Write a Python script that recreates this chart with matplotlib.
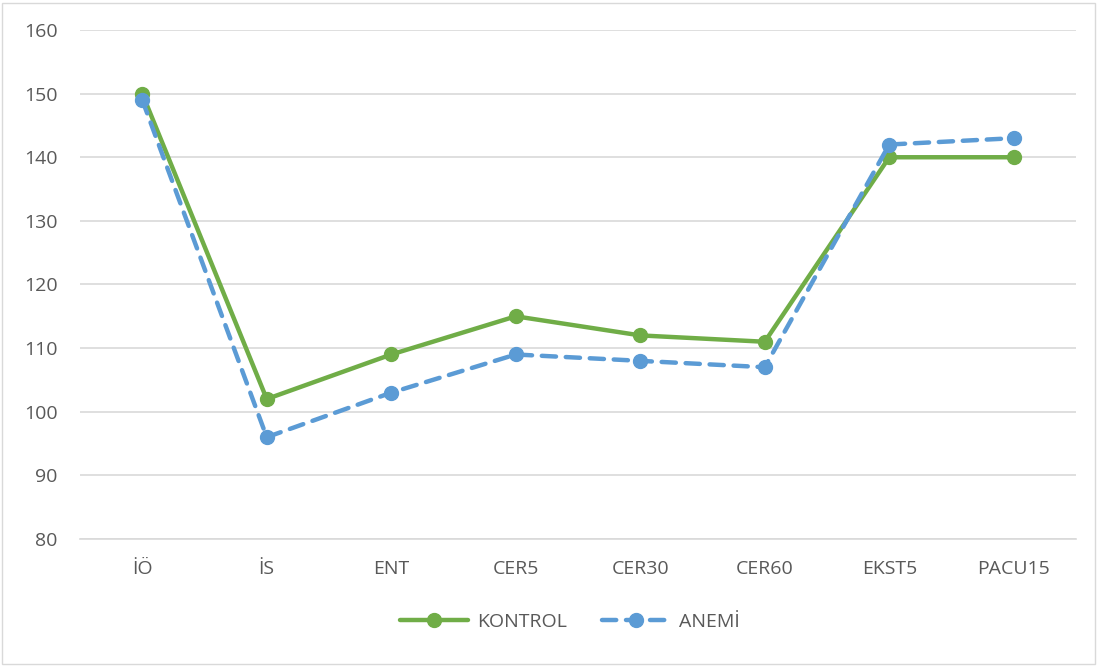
import matplotlib
matplotlib.use("Agg")
import matplotlib.pyplot as plt
from matplotlib.patches import Rectangle

categories = ["İÖ", "İS", "ENT", "CER5", "CER30", "CER60", "EKST5", "PACU15"]
kontrol = [150, 102, 109, 115, 112, 111, 140, 140]
anemi = [149, 96, 103, 109, 108, 107, 142, 143]
yticks = [80, 90, 100, 110, 120, 130, 140, 150, 160]

plt.rcParams['font.family'] = ['Open Sans', 'DejaVu Sans']
FS = 14

fig = plt.figure(figsize=(10.98, 6.66), dpi=100)
ax = fig.add_axes([80/1098, 1-539/666, (1076-80)/1098, (539-30)/666])

x = list(range(len(categories)))
ax.plot(x, kontrol, color="#70AD47", lw=3.2, marker="o", ms=10, label="KONTROL", zorder=3,
        solid_capstyle="round")
ax.plot(x, anemi, color="#5B9BD5", lw=3.2, ls=(0, (3.2, 2.2)), marker="o", ms=10, label="ANEMİ",
        zorder=4, dash_capstyle="round")

ax.set_xlim(-0.5, len(categories) - 0.5)
ax.set_ylim(80, 160)
ax.set_yticks(yticks)
ax.set_xticks(x)
ax.set_xticklabels(categories)
ax.grid(axis="y", color="#D9D9D9", lw=1.2)
ax.set_axisbelow(True)
for s in ["top", "right", "left"]:
    ax.spines[s].set_visible(False)
ax.spines["bottom"].set_color("#D9D9D9")
ax.spines["bottom"].set_linewidth(1.2)
ax.tick_params(axis="both", length=0, labelsize=FS, colors="#595959")
ax.tick_params(axis="y", pad=16)
ax.tick_params(axis="x", pad=15)

leg = fig.legend(loc="center", bbox_to_anchor=(570/1098, 1-622/666), ncol=2, frameon=False,
                 fontsize=FS, handlelength=3.5, columnspacing=1.8, handletextpad=0.45)
for t in leg.get_texts():
    t.set_color("#595959")

fig.patches.append(Rectangle((2/1098, 2/666), 1-5/1098, 1-5/666, transform=fig.transFigure,
                             fill=False, edgecolor="#D9D9D9", lw=1.0))

fig.savefig("out.png", dpi=100, facecolor="white")
